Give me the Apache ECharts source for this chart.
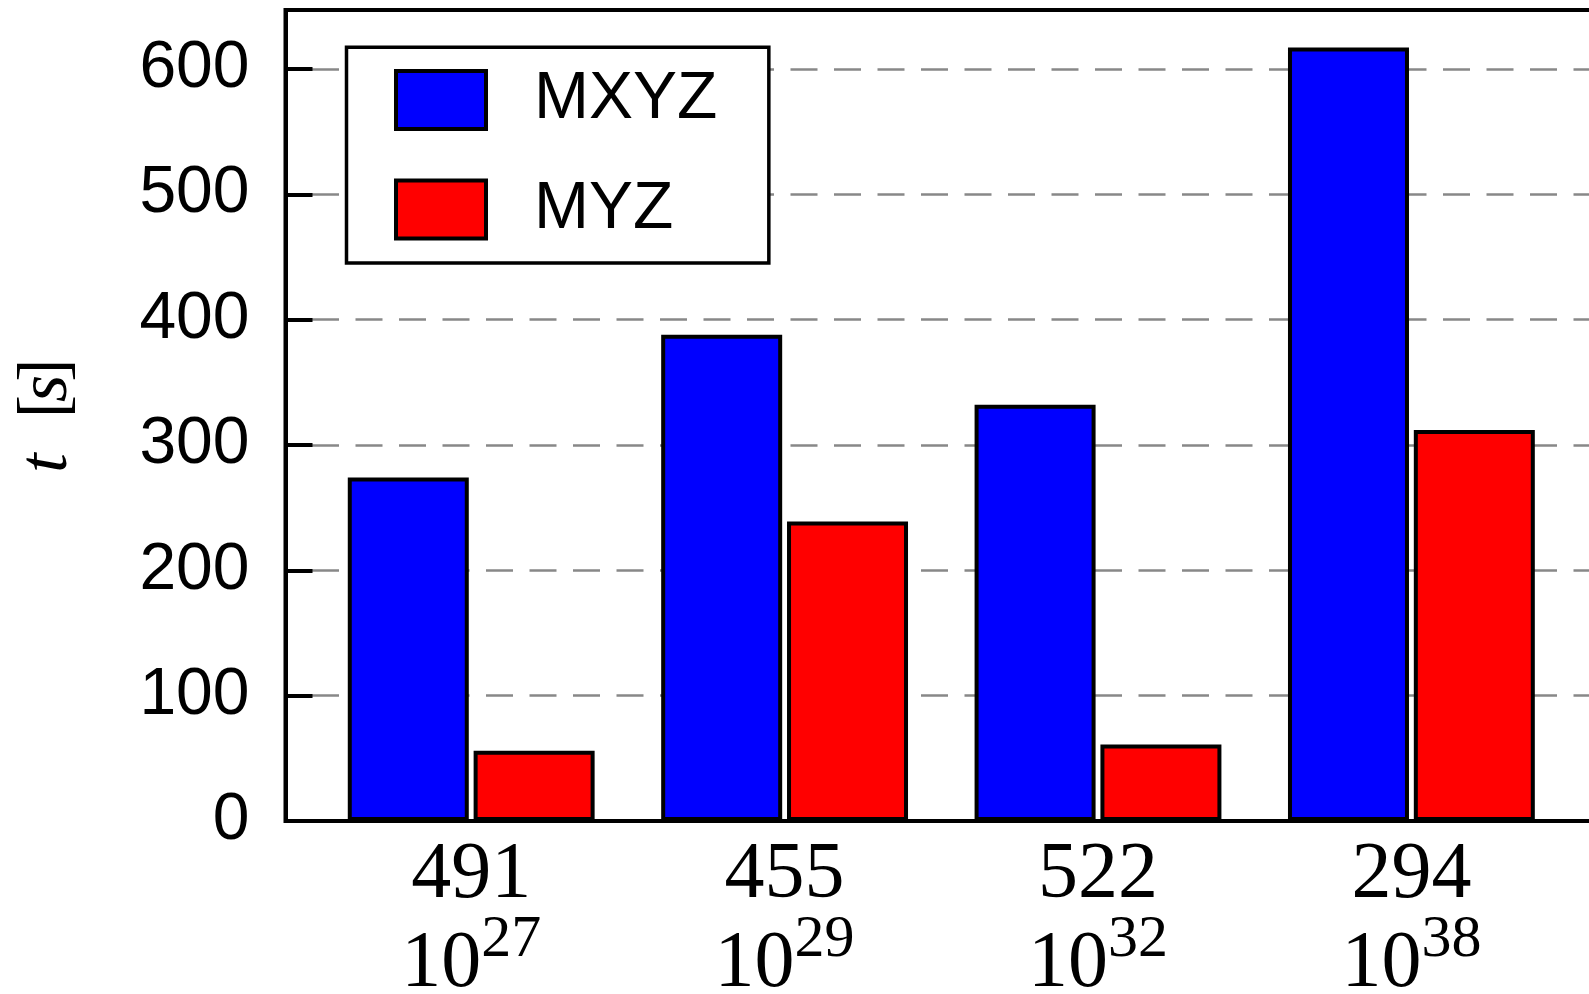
<!DOCTYPE html>
<html><head><meta charset="utf-8">
<script src="https://cdn.jsdelivr.net/npm/echarts@6/dist/echarts.min.js"></script>
<style>html,body{margin:0;padding:0;background:#fff}#c{width:1589px;height:994px}</style>
</head><body><div id="c"></div>
<script>
const sizes = ['491', '455', '522', '294'];
const exponents = ['27', '29', '32', '38'];
const seriesNames = ['MXYZ', 'MYZ'];
const mxyz = [274, 388, 332, 617];
const myz = [56, 239, 61, 312];
const yMin = 0, yMax = 647, yStep = 100;

const categories = sizes.map((s, i) => s + '|' + exponents[i]);

const chart = echarts.init(document.getElementById('c'), null, {renderer: 'canvas'});
const serif = 'Liberation Serif';
const sans = 'Liberation Sans';

const option = {
  animation: false,
  backgroundColor: '#fff',
  grid: [
    {left: 285.5, top: 10, right: -12, bottom: 173, show: true, borderColor: '#000', borderWidth: 4,
     backgroundColor: 'transparent', outerBoundsMode: 'none'},
    {left: 314.5, top: 10, right: 20.9, bottom: 173, outerBoundsMode: 'none'}
  ],
  xAxis: [
    {gridIndex: 0, type: 'value', min: 0, max: 1, axisLine: {show: false}, axisTick: {show: false},
     axisLabel: {show: false}, splitLine: {show: false}},
    {gridIndex: 1, type: 'category', data: categories, axisLine: {show: false}, axisTick: {show: false},
     axisLabel: {
       margin: 14.5, interval: 0,
       formatter: v => { const p = v.split('|'); return '{a|' + p[0] + '}\n{b|10}{s|' + p[1] + '}'; },
       rich: {
         a: {fontFamily: serif, fontSize: 80, lineHeight: 81, color: '#000'},
         b: {fontFamily: serif, fontSize: 80, lineHeight: 97, color: '#000'},
         s: {fontFamily: serif, fontSize: 60, lineHeight: 52, verticalAlign: 'top', color: '#000', padding: [-6, 0, 0, 0]}
       }
     }}
  ],
  yAxis: [
    {gridIndex: 0, type: 'value', min: yMin, max: yMax, interval: yStep,
     axisLine: {show: true, lineStyle: {color: '#000', width: 4}},
     axisTick: {show: true, inside: true, length: 27, lineStyle: {color: '#000', width: 4}},
     axisLabel: {margin: 36, fontSize: 66, fontFamily: sans, color: '#000', showMaxLabel: false, showMinLabel: true},
     splitLine: {show: true, showMinLine: false, showMaxLine: false,
       lineStyle: {color: '#888888', width: 2.5, type: [27, 16.5], dashOffset: 17}},
     name: '{i|t}  {l|[}{i|s}{r|]}', nameLocation: 'middle', nameGap: 203, nameRotate: 90,
     nameTextStyle: {fontFamily: serif, fontSize: 70, lineHeight: 70, color: '#000',
       rich: {
         i: {fontFamily: serif, fontStyle: 'italic', fontSize: 70, lineHeight: 70, color: '#000'},
         l: {fontFamily: serif, fontSize: 70, lineHeight: 70, color: '#000', padding: [0, -7, 0, 0]},
         r: {fontFamily: serif, fontSize: 70, lineHeight: 70, color: '#000', padding: [0, 0, 0, -7]}
       }}
    },
    {gridIndex: 1, type: 'value', min: yMin, max: yMax, show: false, splitLine: {show: false}}
  ],
  legend: {
    left: 346.5, top: 47.2, orient: 'vertical', icon: 'rect',
    itemWidth: 90, itemHeight: 58, itemGap: 43.5,
    padding: [19.7, 51.5, 20.5, 47.5],
    backgroundColor: '#fff', borderColor: '#000', borderWidth: 3.5, borderRadius: 0,
    textStyle: {fontSize: 66, fontFamily: sans, color: '#000', padding: [0, 0, 0, 43]},
    itemStyle: {borderColor: '#000', borderWidth: 4},
    data: seriesNames
  },
  series: [
    {name: seriesNames[0], type: 'bar', xAxisIndex: 1, yAxisIndex: 1, data: mxyz,
     barWidth: 121, barGap: '4%',
     itemStyle: {color: '#0000ff', borderColor: '#000', borderWidth: 4}},
    {name: seriesNames[1], type: 'bar', xAxisIndex: 1, yAxisIndex: 1, data: myz,
     barWidth: 121, barGap: '4%',
     itemStyle: {color: '#ff0000', borderColor: '#000', borderWidth: 4}}
  ]
};
chart.setOption(option);
</script>
</body></html>
